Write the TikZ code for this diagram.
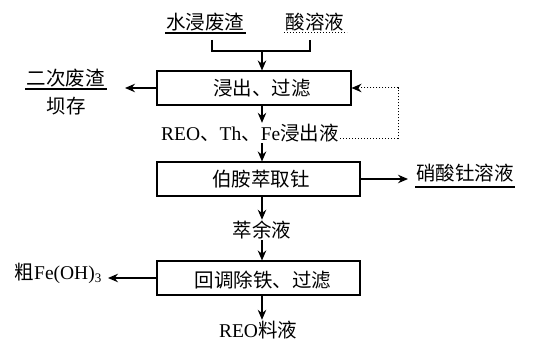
\documentclass[tikz,border=0pt]{standalone}
\usepackage{fontspec}
\setmainfont{Liberation Serif}
\newfontfamily\cjk{Noto Sans CJK SC}
\usetikzlibrary{arrows.meta}
\begin{document}
\begin{tikzpicture}[x=1pt,y=-1pt,
  proc/.style={draw, line width=1.1pt, minimum height=34pt, inner sep=0pt},
  ptxt/.style={inner sep=0pt, font=\fontsize{19.5}{19.5}\selectfont\cjk},
  lbl/.style={inner sep=1pt, font=\fontsize{19.5}{19.5}\selectfont},
  ln/.style={line width=1.1pt},
  arr/.style={line width=1.1pt, -{Stealth[length=10pt,width=8.5pt]}},
  dotarr/.style={line width=1pt, dotted, -{Stealth[length=10pt,width=8.5pt]}}]
\useasboundingbox (0,0) rectangle (536,342);
\coordinate (ax) at (262,0);
% boxes
\node[proc, minimum width=194pt] (b1) at (254,88) {};
\node[ptxt] (b1t) at (262,88) {浸出、过滤};
\node[proc, minimum width=203pt] (b2) at (258.5,179) {};
\node[ptxt] (b2t) at (261,179) {伯胺萃取钍};
\node[proc, minimum width=203pt] (b3) at (258.5,278) {};
\node[ptxt] (b3t) at (263,280) {回调除铁、过滤};
% labels
\node[lbl] (w) at (205,22) {\cjk 水浸废渣};
\node[lbl] (s) at (315,22) {\cjk 酸溶液};
\node[lbl] (e) at (66,78) {\cjk 二次废渣};
\node[lbl] (f) at (66,106) {\cjk 坝存};
\node[lbl] (t1) at (250,133) {REO{\cjk 、}Th{\cjk 、}Fe{\cjk 浸出液}};
\node[lbl] (p) at (465,173) {\cjk 硝酸钍溶液};
\node[lbl] (t2) at (262,230) {\cjk 萃余液};
\node[lbl] (fe) at (58,273) {{\cjk 粗}Fe(OH)\raisebox{-0.35ex}{\fontsize{13}{13}\selectfont 3}};
\node[lbl] (r) at (258,330) {REO{\cjk 料液}};
% underlines
\draw[ln] (165,33) -- (246,33);
\draw[line width=1pt, dotted] (284,33) -- (347,33);
\draw[ln] (25,89) -- (107,89);
\draw[ln] (415,187) -- (515,187);
% bracket joining inputs
\coordinate (jl) at (212,51);
\coordinate (jr) at (310,51);
\coordinate (jm) at (262,51);
\draw[ln] (212,40) -- (jl) -- (jr) -- (310,40);
\draw[arr] (jm) -- (b1.north -| ax);
% side arrows
\coordinate (eo) at (125,88);
\draw[arr] (b1.west) -- (eo);
\coordinate (po) at (408,179);
\draw[arr] (b2.east) -- (po);
\coordinate (fo) at (108,278);
\draw[arr] (b3.west) -- (fo);
% recycle
\coordinate (dr) at (398,88);
\coordinate (ds) at ([yshift=2pt]t1.base east);
\draw[dotarr] (ds) -| (dr) -- (b1.east);
% main flow
\draw[arr] (b1.south -| ax) -- (t1.north -| ax);
\draw[arr] (t1.south -| ax) -- (b2.north -| ax);
\draw[arr] (b2.south -| ax) -- (t2.north -| ax);
\draw[arr] (t2.south -| ax) -- (b3.north -| ax);
\draw[arr] (b3.south -| ax) -- (r.north -| ax);
\end{tikzpicture}
\end{document}
